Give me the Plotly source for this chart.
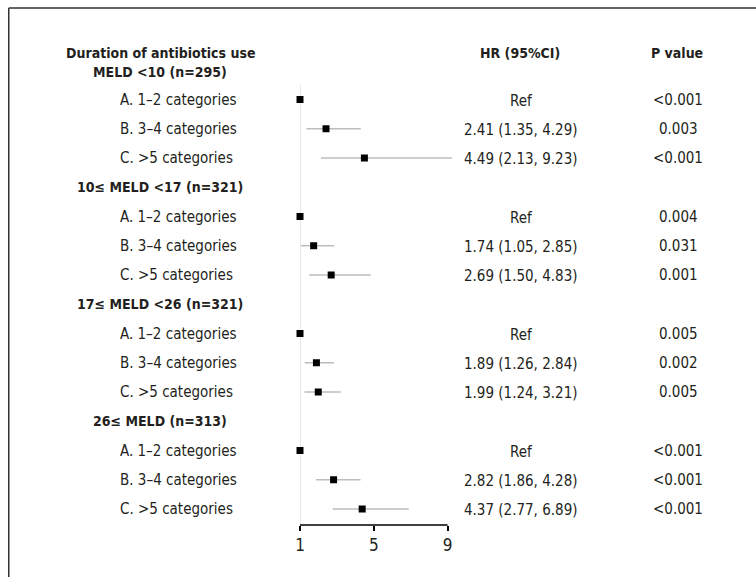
import plotly.graph_objects as go

# ---------------- data ----------------
groups = ["MELD <10 (n=295)", "10≤ MELD <17 (n=321)", "17≤ MELD <26 (n=321)", "26≤ MELD (n=313)"]
categories = ["A. 1–2 categories", "B. 3–4 categories", "C. >5 categories"]
hr = [[1.0, 2.41, 4.49], [1.0, 1.74, 2.69], [1.0, 1.89, 1.99], [1.0, 2.82, 4.37]]
ci_low = [[None, 1.35, 2.13], [None, 1.05, 1.50], [None, 1.26, 1.24], [None, 1.86, 2.77]]
ci_high = [[None, 4.29, 9.23], [None, 2.85, 4.83], [None, 2.84, 3.21], [None, 4.28, 6.89]]
hr_text = [["Ref", "2.41 (1.35, 4.29)", "4.49 (2.13, 9.23)"],
           ["Ref", "1.74 (1.05, 2.85)", "2.69 (1.50, 4.83)"],
           ["Ref", "1.89 (1.26, 2.84)", "1.99 (1.24, 3.21)"],
           ["Ref", "2.82 (1.86, 4.28)", "4.37 (2.77, 6.89)"]]
p_text = [["<0.001", "0.003", "<0.001"],
          ["0.004", "0.031", "0.001"],
          ["0.005", "0.002", "0.005"],
          ["<0.001", "<0.001", "<0.001"]]
tick_vals = [1, 5, 9]
col_titles = ["Duration of antibiotics use", "HR (95%CI)", "P value"]

# ---------------- layout geometry (pixels) ----------------
W, H = 756, 577
FONT = "Liberation Sans Narrow, Arial Narrow, DejaVu Sans Condensed, sans-serif"
TXT = "#231f20"
REG_SIZE, BOLD_SIZE = 15, 14
X0_PX, PX_PER_UNIT = 300.0, 18.5
XMAX = 9.4
PLOT_L = X0_PX
PLOT_R = X0_PX + (XMAX - 1) * PX_PER_UNIT
ROW0_PX, ROW_STEP = 99.5, 29.25
PLOT_T, PLOT_B = 40.0, 525.0

def row_idx(px):
    return (px - ROW0_PX) / ROW_STEP

def xpaper(px):
    return (px - PLOT_L) / (PLOT_R - PLOT_L)

def ypaper(px):
    return (PLOT_B - px) / (PLOT_B - PLOT_T)

rows = []
ann = []
r = 0
for g, gname in enumerate(groups):
    hdr_row = -0.95 if g == 0 else r
    if g > 0:
        r += 1
    ann.append(dict(text="<b>%s</b>" % gname, x=xpaper(160), y=hdr_row, xanchor="center", size=BOLD_SIZE))
    for c, cname in enumerate(categories):
        rows.append((g, c, r))
        ann.append(dict(text=cname, x=xpaper(118), y=r, xanchor="left", size=REG_SIZE))
        ann.append(dict(text=hr_text[g][c], x=xpaper(522), y=r + 0.05, xanchor="center", size=REG_SIZE))
        ann.append(dict(text=p_text[g][c], x=xpaper(679), y=r, xanchor="center", size=REG_SIZE))
        r += 1

title_row = -1.6
ann.append(dict(text="<b>%s</b>" % col_titles[0], x=xpaper(160), y=title_row, xanchor="center", size=BOLD_SIZE))
ann.append(dict(text="<b>%s</b>" % col_titles[1], x=xpaper(521), y=title_row, xanchor="center", size=BOLD_SIZE))
ann.append(dict(text="<b>%s</b>" % col_titles[2], x=xpaper(678), y=title_row, xanchor="center", size=BOLD_SIZE))

fig = go.Figure()

for g, c, rr in rows:
    if ci_low[g][c] is not None:
        fig.add_trace(go.Scatter(x=[ci_low[g][c], ci_high[g][c]], y=[rr, rr], mode="lines",
                                 line=dict(color="#bdbdbd", width=1.5), cliponaxis=False,
                                 hoverinfo="skip", showlegend=False))

fig.add_trace(go.Scatter(x=[hr[g][c] for g, c, rr in rows], y=[rr for g, c, rr in rows],
                         mode="markers", marker=dict(symbol="square", size=7, color="black"),
                         cliponaxis=False, showlegend=False))

shapes = [
    dict(type="line", xref="x", yref="y", x0=1, x1=1, y0=-0.5, y1=row_idx(PLOT_B),
         line=dict(color="#d3dbe3", width=1.2), layer="below"),
    dict(type="line", xref="x", yref="paper", x0=tick_vals[0], x1=tick_vals[-1], y0=0, y1=0,
         line=dict(color="black", width=1.5)),
    dict(type="line", xref="paper", yref="paper", x0=xpaper(8), x1=xpaper(W + 5), y0=ypaper(8), y1=ypaper(8),
         line=dict(color="#333333", width=1.5)),
    dict(type="line", xref="paper", yref="paper", x0=xpaper(8), x1=xpaper(8), y0=ypaper(8), y1=ypaper(H + 5),
         line=dict(color="#333333", width=1.5)),
]

annotations = []
for a in ann:
    annotations.append(dict(text=a["text"], x=a["x"], y=a["y"], xref="paper", yref="y",
                            xanchor=a["xanchor"], yanchor="middle", showarrow=False,
                            font=dict(family=FONT, size=a["size"], color=TXT)))

fig.update_layout(
    width=W, height=H,
    margin=dict(l=PLOT_L, r=W - PLOT_R, t=PLOT_T, b=H - PLOT_B, autoexpand=False),
    paper_bgcolor="white", plot_bgcolor="white",
    xaxis=dict(range=[1, XMAX], tickvals=tick_vals, ticktext=[str(v) for v in tick_vals],
               ticks="outside", ticklen=5, tickwidth=1.5, tickcolor="black",
               showgrid=False, zeroline=False, showline=False, automargin=False,
               tickfont=dict(family=FONT, size=17, color=TXT)),
    yaxis=dict(range=[row_idx(PLOT_B), row_idx(PLOT_T)], visible=False, showgrid=False,
               zeroline=False, automargin=False),
    shapes=shapes,
    annotations=annotations,
    showlegend=False,
)

fig.write_html("out.html")
